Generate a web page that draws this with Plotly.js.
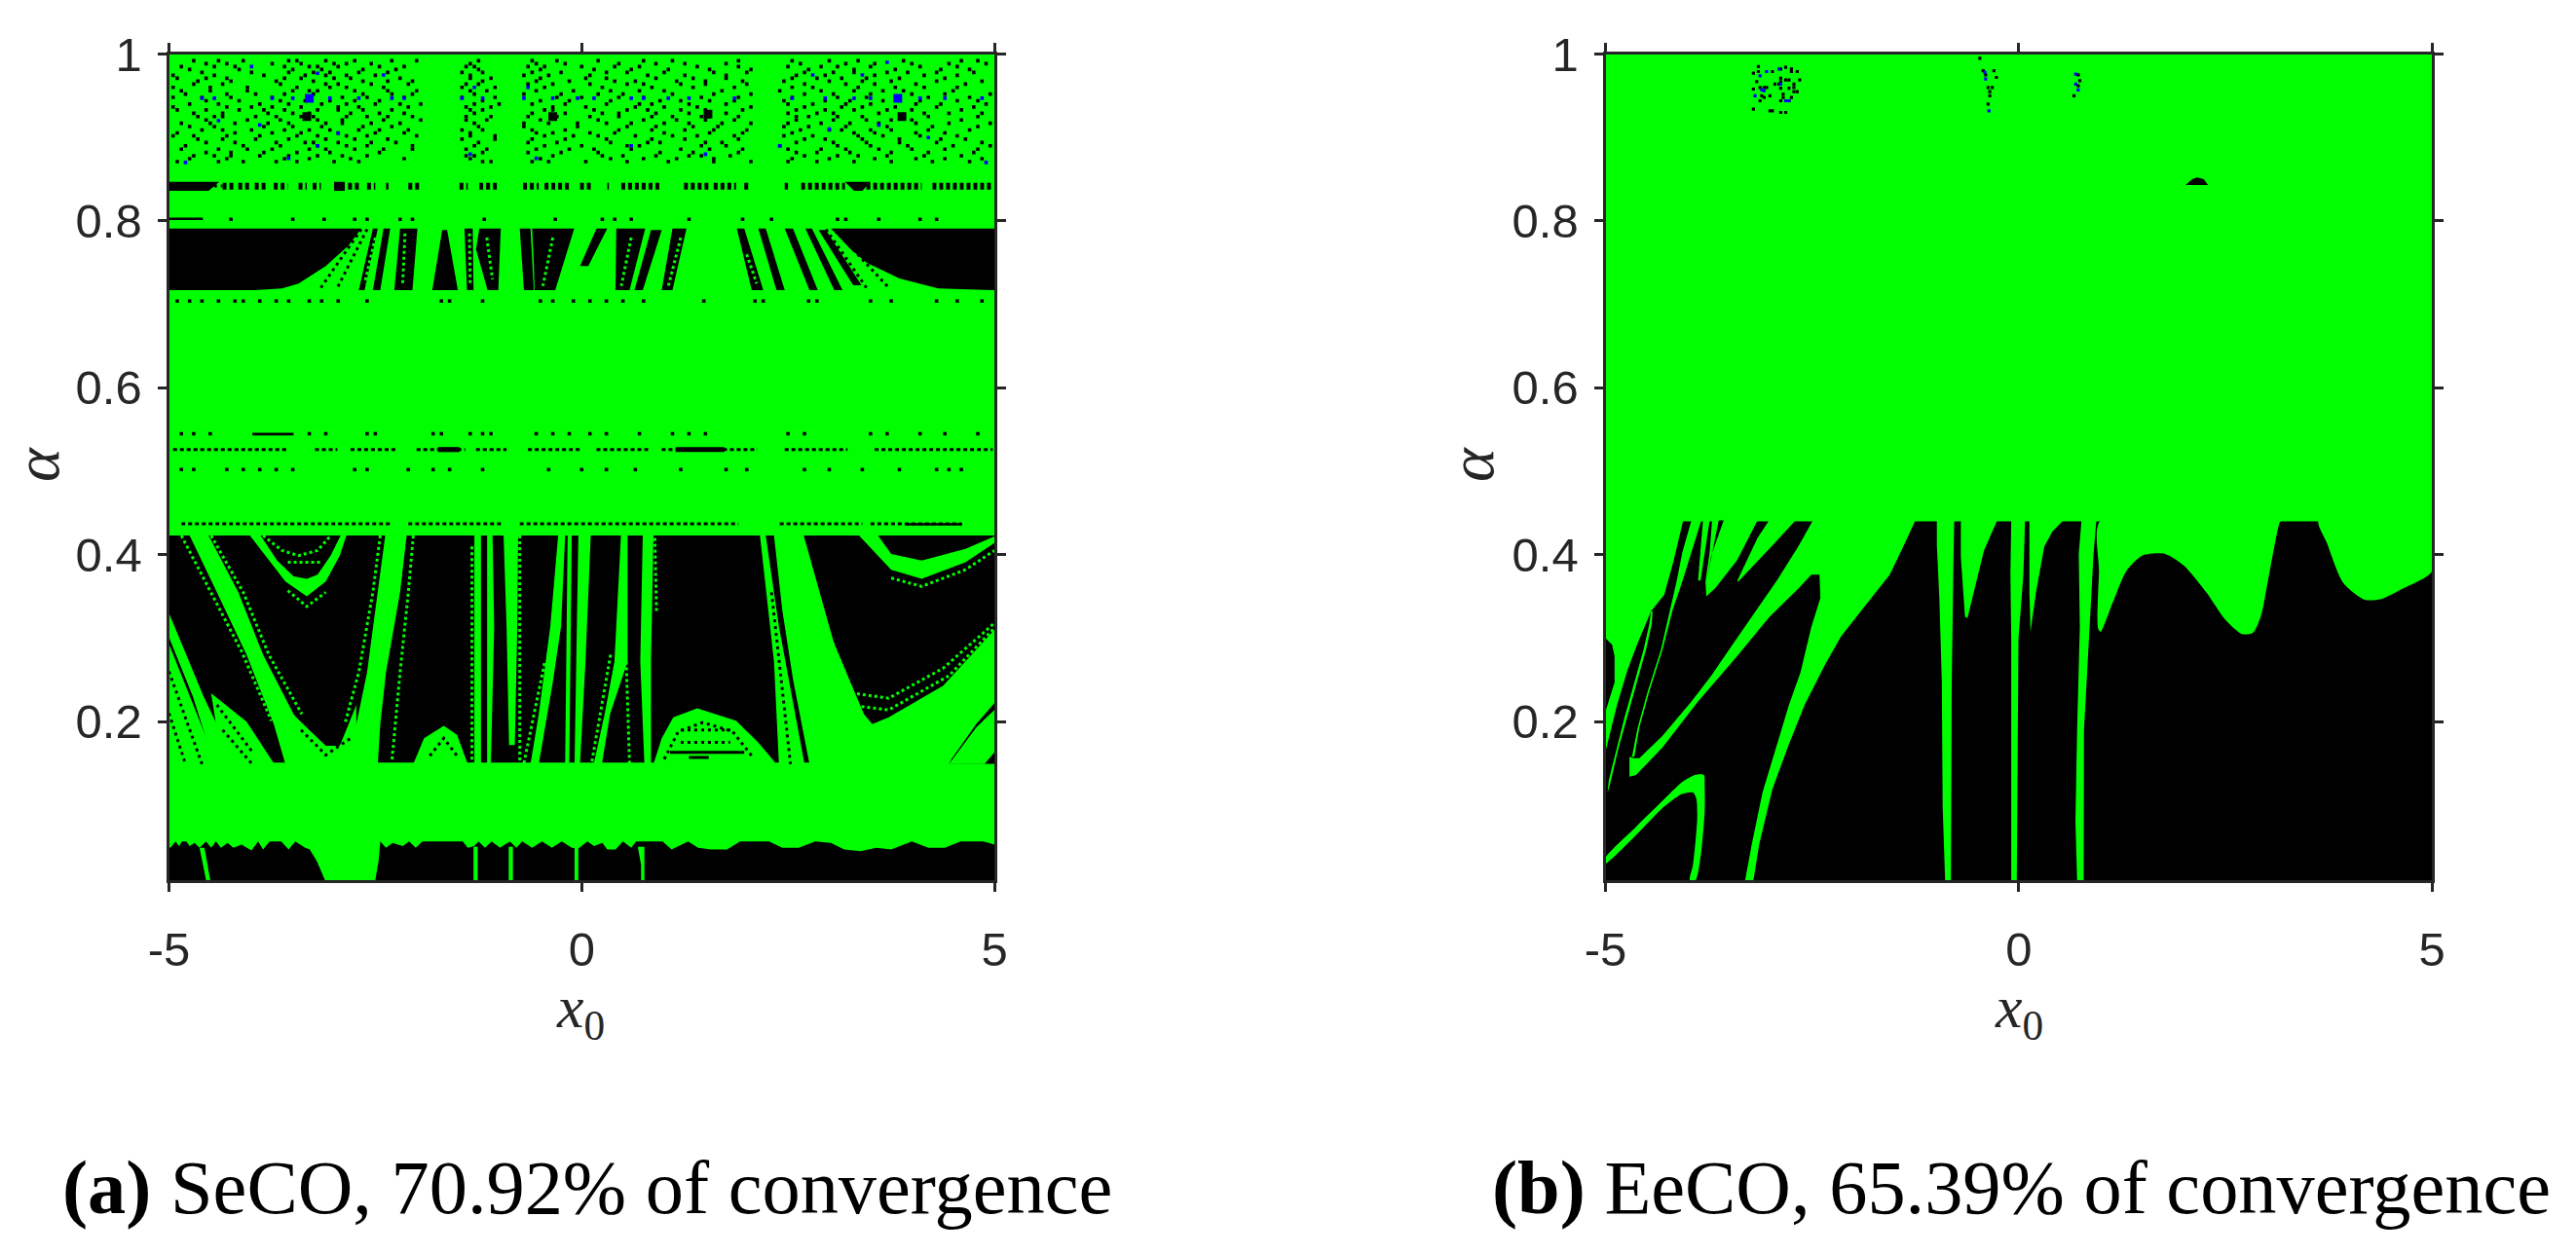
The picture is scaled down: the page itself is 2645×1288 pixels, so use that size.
<!DOCTYPE html>
<html><head><meta charset="utf-8">
<script src="https://cdn.plot.ly/plotly-3.0.1.min.js"></script>
<style>html,body{margin:0;padding:0;background:#fff}#c{width:2645px;height:1288px}</style>
</head><body><div id="c"></div>
<script>
// ---------- tick labels and captions ----------
const xTickVals=[-5,0,5], xTickText=['-5','0','5'];
const yTickVals=[0.2,0.4,0.6,0.8,1], yTickText=['0.2','0.4','0.6','0.8','1'];
const captionA='<b>(a)</b> SeCO, 70.92% of convergence';
const captionB='<b>(b)</b> EeCO, 65.39% of convergence';
const xTitle='<i>x</i><sub>0</sub>', yTitle='<i>α</i>';

// ---------- panel (b): green regions over black ----------
const rTop=[[-5,1],[5,1],[5,.44],[-5,.44]];
const rWedge=[[-5,.441],[-4.06,.441],[-4.18,.391],[-4.29,.352],[-4.45,.332],[-4.61,.294],[-4.73,.263],[-4.86,.22],[-5,.164],[-5,.212],[-4.89,.247],[-4.89,.278],[-4.92,.292],[-5,.3]];
const rS1=[[-4.45,.332],[-4.43,.332],[-4.44,.317],[-4.51,.286],[-4.62,.247],[-4.74,.205],[-4.84,.169],[-4.95,.123],[-4.975,.115],[-4.96,.13],[-4.86,.169],[-4.77,.205],[-4.65,.247],[-4.54,.286],[-4.47,.317]];
const rS2=[[-3.96,.441],[-3.84,.441],[-3.96,.403],[-4.07,.368],[-4.19,.333],[-4.31,.286],[-4.47,.236],[-4.59,.193],[-4.65,.158],[-4.68,.158],[-4.61,.193],[-4.49,.236],[-4.33,.286],[-4.22,.333],[-4.14,.368],[-4.07,.403]];
const rS3=[[-3.82,.441],[-3.74,.441],[-3.85,.369],[-3.88,.369]];
const rT=[[-3.71,.441],[-3.16,.441],[-3.41,.393],[-3.67,.36],[-3.78,.35],[-3.79,.368],[-3.74,.403]];
const rP4=[[-3.02,.441],[-2.7,.441],[-2.98,.411],[-3.4,.367],[-3.4,.37],[-3.16,.42]];
const rMain=[[-2.49,.441],[-1.25,.441],[-1.39,.411],[-1.56,.376],[-1.84,.341],[-2.15,.302],[-2.35,.267],[-2.59,.22],[-2.78,.173],[-2.98,.119],[-3.14,.053],[-3.21,.01],[-3.31,.01],[-3.23,.053],[-3.1,.115],[-2.94,.169],[-2.78,.22],[-2.64,.259],[-2.51,.313],[-2.4,.348],[-2.41,.376],[-2.51,.376],[-2.66,.36],[-3.02,.325],[-3.41,.278],[-3.88,.224],[-4.31,.169],[-4.63,.136],[-4.71,.134],[-4.71,.158],[-4.66,.156],[-4.59,.156],[-4.31,.183],[-3.96,.224],[-3.72,.255],[-3.45,.294],[-3.18,.333],[-2.92,.37],[-2.66,.411]];
const rHook=[[-5,.037],[-4.63,.074],[-4.31,.105],[-4.08,.127],[-3.92,.136],[-3.81,.136],[-3.8,.123],[-3.8,.092],[-3.84,.045],[-3.91,.01],[-3.98,.01],[-3.94,.029],[-3.89,.084],[-3.9,.107],[-3.94,.115],[-4.08,.113],[-4.29,.098],[-4.63,.064],[-5,.03]];
const rFa=[[-.99,.441],[-.78,.441],[-.79,.387],[-.81,.247],[-.82,.01],[-.89,.01],[-.92,.098],[-.93,.247],[-.96,.348],[-.99,.411]];
const rFb=[[-.7,.441],[-.26,.441],[-.42,.405],[-.62,.324],[-.65,.326],[-.7,.397]];
const rFc=[[-.09,.441],[.077,.441],[.057,.376],[-.003,.299],[-.023,.01],[-.09,.01],[-.09,.299],[-.1,.376]];
const rFd=[[.13,.441],[.54,.441],[.41,.428],[.31,.41],[.21,.355],[.143,.3075],[.13,.355]];
const rFe=[[.76,.441],[.94,.441],[.906,.401],[.84,.28],[.79,.189],[.786,.01],[.707,.01],[.687,.08],[.707,.189],[.74,.314],[.727,.401]];
const rFf=[[.992,.441],[.972,.38],[.96,.312],[.992,.3075],[1.14,.343],[1.3,.38],[1.5,.399],[1.77,.401],[2,.387],[2.27,.355],[2.5,.322],[2.7,.305],[2.83,.306],[2.93,.326],[3.03,.376],[3.16,.439],[3.18,.441]];
const rFg=[[3.63,.441],[3.73,.414],[3.93,.366],[4.19,.346],[4.39,.347],[4.66,.36],[5,.38],[5,.441]];
const rBlackFinger=[[-3.63,.441],[-3.57,.441],[-3.72,.399],[-3.77,.372]];
const rBlob=[[2.02,.843],[2.13,.843],[2.2,.843],[2.29,.843],[2.24,.85],[2.16,.852],[2.1,.85]];
const rSpeckBlack=[[-3.15,.985],[-3.15,.979],[-2.88,.982],[-2.82,.984],[-2.75,.982],[-2.75,.979],[-3.21,.977],[-2.98,.979],[-2.68,.979],[-3.17,.967],[-2.88,.971],[-2.88,.967],[-2.82,.969],[-2.78,.969],[-2.65,.969],[-2.95,.964],[-2.90,.964],[-2.72,.964],[-2.72,.96],[-2.72,.955],[-3.21,.958],[-3.13,.96],[-3.08,.96],[-3.05,.96],[-2.88,.959],[-2.78,.959],[-2.68,.955],[-3.11,.95],[-3.01,.95],[-2.85,.952],[-2.85,.948],[-2.75,.948],[-3.08,.948],[-3.13,.944],[-2.88,.944],[-2.78,.944],[-3.21,.934],[-3.01,.932],[-2.98,.932],[-2.88,.93],[-2.82,.93],[-.47,.995],[-.43,.98],[-.4,.975],[-.3,.98],[-.27,.972],[-.37,.96],[-.32,.96],[-.35,.955],[-.35,.95],[-.37,.94],[.72,.975],[.74,.968],[.72,.962],[.67,.95]];
const rSpeckBlue=[[-3.13,.974],[-3.05,.979],[-2.9,.982],[-2.88,.964],[-3.11,.957],[-3.08,.956],[-3.19,.95],[-2.82,.944],[-2.78,.944],[-.41,.978],[-.4,.97],[.69,.976],[.69,.964],[-.36,.932],[.72,.957]];

// ---------- panel (a): black regions over a green ground ----------
const lGround=[[-5,1],[5,1],[5,.01],[-5,.01]];
const lBandA=[[-5,.791],[-2.67,.791],[-2.83,.77],[-3.1,.746],[-3.43,.725],[-3.63,.719],[-3.96,.717],[-5,.717]];
const lBandB=[[3.02,.791],[5,.791],[5,.717],[4.32,.719],[3.85,.731],[3.45,.75],[3.26,.766]];
const lWedges=[
 [[-2.53,.791],[-2.47,.791],[-2.63,.717],[-2.7,.717]],
 [[-2.4,.791],[-2.32,.791],[-2.44,.717],[-2.53,.717]],
 [[-2.2,.791],[-1.99,.791],[-2.05,.717],[-2.27,.717]],
 [[-1.69,.789],[-1.63,.789],[-1.5,.717],[-1.81,.717]],
 [[-1.42,.791],[-1.32,.791],[-1.31,.717],[-1.39,.717]],
 [[-1.24,.791],[-.98,.791],[-1.01,.717],[-1.14,.717],[-1.28,.766]],
 [[-.75,.791],[-.62,.791],[-.58,.717],[-.7,.717]],
 [[-.6,.791],[-.09,.791],[-.32,.717],[-.57,.717],[-.58,.75]],
 [[.18,.791],[.31,.791],[.08,.746],[-.02,.746]],
 [[.42,.791],[.77,.791],[.58,.717],[.41,.717]],
 [[.84,.789],[.97,.789],[.74,.717],[.64,.717]],
 [[1.1,.791],[1.27,.791],[1.1,.717],[.97,.717]],
 [[1.88,.791],[1.97,.791],[2.2,.717],[2.06,.717]],
 [[2.14,.791],[2.23,.791],[2.46,.717],[2.36,.717]],
 [[2.46,.791],[2.56,.791],[2.86,.717],[2.76,.717]],
 [[2.71,.791],[2.79,.791],[3.16,.717],[3.06,.717]],
 [[2.87,.789],[2.96,.789],[3.39,.723],[3.29,.723]]
];
const lStripeBlocks=[
 [[-5,.847],[-4.39,.847],[-4.52,.836],[-5,.836]],
 [[-3,.847],[-2.87,.847],[-2.87,.836],[-3,.836]],
 [[3.19,.847],[3.5,.847],[3.4,.836],[3.3,.836]],
 [[-5,.804],[-4.59,.804],[-4.59,.801],[-5,.801]],
 [[-3.99,.546],[-3.49,.546],[-3.49,.543],[-3.99,.543]],
 [[-1.74,.529],[-1.48,.529],[-1.48,.523],[-1.74,.523]],
 [[1.14,.529],[1.73,.529],[1.73,.523],[1.14,.523]],
 [[3.92,.438],[4.61,.438],[4.61,.435],[3.92,.435]]
];
const lMid=[[-5,.423],[5,.423],[5,.149],[-5,.149]];
const lLowBand=[[-5,.151],[4.45,.151],[4.45,.06],[-5,.06]];
const lLowBandRight=[[4.4,.149],[5,.149],[5,.06],[4.4,.06]];
const lBottom=[[-5,.049],[-4.98,.049],[-4.92,.0565],[-4.88,.0507],[-4.84,.0565],[-4.79,.0565],[-4.75,.0507],[-4.69,.0545],[-4.63,.0487],[-4.55,.0565],[-4.49,.0487],[-4.43,.0565],[-4.37,.0487],[-4.29,.0545],[-4.22,.0487],[-4.12,.0526],[-4,.0456],[-3.92,.0565],[-3.86,.0468],[-3.78,.0565],[-3.64,.0565],[-3.55,.0468],[-3.47,.0565],[-3.35,.0487],[-3.29,.0468],[-2.44,.0565],[-2.37,.0487],[-2.29,.0545],[-2.17,.0507],[-2.09,.0565],[-2.01,.0487],[-1.93,.0565],[-1.44,.0565],[-1.38,.0487],[-1.3,.0507],[-1.25,.0565],[-1.17,.0487],[-1.09,.0565],[-.99,.0487],[-.87,.0565],[-.79,.0487],[-.72,.0565],[-.6,.0487],[-.48,.0565],[-.36,.0487],[-.24,.0565],[-.12,.0487],[-.04,.048],[.07,.0565],[.15,.0507],[.25,.0545],[.31,.0468],[.41,.0468],[.5,.0565],[.6,.0487],[.66,.0565],[.86,.0565],[.98,.0565],[1.09,.0468],[1.29,.0565],[1.41,.0487],[1.57,.0468],[1.76,.0468],[1.92,.0565],[2.27,.0565],[2.43,.0487],[2.63,.0487],[2.83,.0565],[3.02,.0545],[3.18,.0468],[3.38,.0448],[3.57,.0487],[3.75,.0468],[4,.0565],[4.2,.0487],[4.4,.0487],[4.59,.0565],[4.87,.0565],[5,.0526],[5,.01],[-5,.01]];

// green over the black parts of panel (a)
const lGreen=[
 [[-3.3,.06],[-2.42,.06],[-2.44,.0565],[-2.46,.033],[-2.5,.01],[-3.11,.01],[-3.21,.033],[-3.29,.046]],
 [[-4.63,.0487],[-4.57,.0487],[-4.5,.01],[-4.55,.01]],
 [[-1.31,.05],[-1.26,.05],[-1.26,.01],[-1.31,.01]],
 [[-.884,.05],[-.833,.05],[-.833,.01],[-.884,.01]],
 [[-.086,.05],[-.04,.05],[-.04,.01],[-.086,.01]],
 [[.68,.05],[.76,.05],[.76,.01],[.72,.01],[.72,.028]],
 [[-4.75,.423],[-4.52,.423],[-4.16,.355],[-3.86,.28],[-3.49,.209],[-3.16,.168],[-2.96,.149],[-3.59,.149],[-3.73,.197],[-4.06,.28],[-4.42,.355]],
 [[-2.38,.423],[-2.12,.423],[-2.2,.355],[-2.37,.259],[-2.44,.197],[-2.47,.149],[-2.87,.149],[-2.73,.197],[-2.6,.259],[-2.47,.355]],
 [[-3.46,.205],[-3.1,.171],[-2.93,.171],[-2.73,.22],[-2.73,.149],[-3.46,.149]],
 [[-5,.33],[-5,.301],[-4.71,.23],[-4.45,.149],[-4.19,.149],[-4.58,.23]],
 [[-5,.293],[-4.75,.23],[-4.42,.149],[-5,.149]],
 [[-4.49,.234],[-4.06,.2],[-3.73,.15],[-4.35,.149]],
 [[-4.02,.423],[-3.83,.399],[-3.59,.368],[-3.33,.35],[-3.1,.368],[-2.93,.399],[-2.85,.423],[-2.92,.423],[-3.04,.399],[-3.2,.376],[-3.33,.371],[-3.49,.374],[-3.69,.393],[-3.89,.423]],
 [[-2.04,.149],[-1.91,.18],[-1.67,.195],[-1.51,.184],[-1.38,.149]],
 [[.87,.149],[.97,.18],[1.11,.205],[1.4,.216],[1.87,.201],[2.13,.176],[2.36,.149]],
 [[-1.3,.423],[-1.22,.423],[-1.22,.149],[-1.3,.149]],
 [[-1.145,.423],[-1.08,.423],[-1.06,.314],[-1.1,.149],[-1.145,.149]],
 [[-.946,.423],[-.77,.423],[-.78,.314],[-.81,.172],[-.88,.172],[-.91,.314]],
 [[-.285,.423],[-.2,.423],[-.25,.314],[-.35,.247],[-.52,.149],[-.62,.149],[-.52,.209],[-.38,.314]],
 [[-.17,.423],[-.12,.423],[-.15,.149],[-.2,.149]],
 [[-.04,.423],[.11,.423],[.046,.272],[-.02,.149],[-.086,.149],[-.066,.272]],
 [[.476,.423],[.556,.423],[.556,.272],[.344,.209],[.245,.149],[.146,.149],[.278,.209],[.397,.272]],
 [[.74,.423],[.87,.423],[.84,.272],[.84,.149],[.76,.149],[.71,.272]],
 [[2.33,.423],[2.69,.423],[3.06,.293],[3.42,.209],[3.52,.197],[3.72,.205],[4.38,.243],[5,.31],[5,.222],[4.78,.197],[4.48,.155],[4.45,.149],[2.76,.149],[2.56,.251],[2.43,.334]],
 [[3.36,.423],[3.75,.382],[4.12,.371],[4.65,.391],[5,.414],[5,.422],[4.65,.407],[4.12,.393],[3.75,.401],[3.59,.423]],
 [[2.16,.423],[2.23,.423],[2.39,.314],[2.7,.149],[2.39,.149],[2.33,.272]],
 [[4.45,.149],[4.78,.193],[5,.214],[5,.163],[4.88,.149]]
];
// dotted green trails on black
const lGreenTrails=[
 [[-4.49,.423],[-4.1,.355],[-3.79,.28],[-3.39,.209]],
 [[-4.85,.423],[-4.49,.355],[-4.12,.284],[-3.76,.201]],
 [[-2.44,.423],[-2.53,.355],[-2.7,.259],[-2.87,.197]],
 [[-2.04,.423],[-2.1,.355],[-2.2,.259],[-2.3,.152]],
 [[-3.56,.357],[-3.33,.338],[-3.1,.355]],
 [[-1.33,.41],[-1.33,.149]],
 [[-.75,.423],[-.75,.149]],
 [[-.45,.27],[-.7,.15]],
 [[.35,.28],[.12,.15]],
 [[.54,.272],[.58,.149]],
 [[.887,.42],[.907,.33]],
 [[2.96,.314],[3.29,.234],[3.72,.228],[4.38,.264],[5,.318]],
 [[3.39,.218],[3.72,.214],[4.45,.255],[5,.312]],
 [[3.75,.372],[4.12,.362],[4.65,.382],[5,.405]],
 [[-3.86,.423],[-3.63,.405],[-3.43,.399],[-3.2,.405],[-3.04,.423]],
 [[-3.56,.391],[-3.16,.391]],
 [[-2.5,.78],[-2.63,.725]],[[-2.14,.785],[-2.17,.722]],[[-1.36,.785],[-1.35,.722]],[[-1.15,.78],[-1.08,.73]],
 [[-.35,.78],[-.47,.722]],[[.6,.78],[.48,.722]],[[1.2,.78],[1.05,.722]],[[2.0,.76],[2.12,.725]]
];
// dotted black trails on green
const lBlackTrails=[
 [[-2.67,.79],[-3.16,.72]],[[-2.6,.79],[-2.96,.72]],
 [[3.06,.79],[3.72,.72]],[[2.96,.79],[3.45,.72]],
 [[-5,.26],[-4.6,.149]],[[-5,.21],[-4.8,.149]],
 [[-4.42,.22],[-4,.165]],[[-4.35,.19],[-4,.15]],
 [[-3.4,.19],[-3.1,.16],[-2.8,.18]],
 [[-1.84,.159],[-1.67,.18],[-1.51,.159]],
 [[1,.155],[1.17,.188],[1.47,.199],[1.83,.188],[2.06,.159]],
 [[1.2,.175],[1.8,.175]],[[1.2,.19],[1.8,.19]],
 [[2.3,.355],[2.53,.149]],
 [[-4.95,.842],[-4.35,.842]]
];
const lBlackSolid=[
 [[1.07,.163],[1.97,.163]],[[1.3,.157],[1.54,.157]]
];
// broken horizontal stripes: [y, [x0,x1], [x0,x1], ...]
const lStripeY=[.8415,.526,.437];
const lStripeRuns=[
 [[-4.35,-4.22],[-4.16,-4.02],[-3.96,-3.83],[-3.73,-3.56],[-3.43,-3.33],[-3.26,-3.16],[-2.83,-2.67],[-2.6,-2.5],[-2.37,-2.34],[-2.1,-1.94],[-1.48,-1.38],[-1.24,-1.01],[-.71,-.52],[-.45,-.12],[-.02,.11],[.31,.33],[.48,.97],[1.24,1.54],[1.6,1.87],[1.97,2.03],[2.46,2.5],[2.66,3.19],[3.45,4.12],[4.25,4.98]],
 [[-4.95,-3.56],[-3.23,-2.96],[-2.8,-2.24],[-2,-1.41],[-1.28,-.91],[-.65,.01],[.18,.84],[.97,2.13],[2.46,3.22],[3.55,4.98]],
 [[-4.85,-2.3],[-2.1,-.95],[-.75,1.9],[2.4,3.4],[3.5,4.6]]
];
// black specks: row values and x positions read along each row
const speckRowY=[.992,.985,.978,.971,.964,.956,.948,.94,.933,.925,.917,.909,.902,.894,.886,.878,.871,.802,.704,.545,.502,
 .9885,.9815,.9745,.9675,.96,.952,.944,.9365,.929,.921,.913,.9055,.898,.89,.882,.8745];
const speckRowX=[
 [-4.7,-4.4,-4.1,-3.55,-3.45,-3.1,-2.75,-2.3,-2,-1.25,-.6,-.3,.2,.75,1.1,1.9,2.55,3,3.35,3.9,4.6,4.8],
 [-4.85,-4.45,-4.2,-3.6,-3.3,-3.2,-2.95,-2.45,-2.15,-1.4,-1.3,-.65,-.45,0,.4,.7,1.4,1.9,2.5,2.9,3.1,3.5,4.1,4.55],
 [-4.6,-4,-3.55,-3.25,-3.05,-2.7,-2.35,-1.45,-1.2,-.6,-.25,.3,.55,1,1.6,2,2.7,3.05,3.3,3.7,3.95,4.3,4.75],
 [-4.9,-4.55,-4.3,-3.6,-3.4,-3,-2.8,-2.2,-1.35,-1.1,-.5,.05,.3,.9,1.35,1.75,2.55,2.85,3.15,3.45,3.85,4.4],
 [-4.7,-4.35,-3.65,-3.1,-2.95,-2.55,-2.1,-1.4,-1.25,-.65,-.35,.1,.55,.75,1.2,1.5,2,2.7,3.2,3.55,4.05,4.65],
 [-4.85,-4.5,-4.05,-3.5,-3.3,-3.2,-2.75,-2.35,-2,-1.35,-1.15,-.55,-.1,.35,.7,1,1.7,2.4,2.9,3.3,3.65,3.9,4.5],
 [-4.95,-4.6,-4.25,-3.75,-2.9,-2.6,-2.15,-1.45,-1.05,-.3,0,.45,.75,1.45,1.9,2.55,3.1,3.45,4.2,4.7],
 [-4.75,-4.4,-3.9,-3.55,-3.15,-2.85,-2.5,-2.2,-1.95,-1.3,-1,-.6,-.2,.3,.7,.85,1.3,1.75,2.5,2.8,3.2,3.5,4.05,4.35,4.9],
 [-4.9,-4.55,-4.15,-3.85,-3.6,-3.2,-2.95,-2.65,-2.3,-1.35,-1.2,-.45,-.35,.15,.55,.8,1.2,1.5,1.95,2.6,2.95,3.3,3.7,4,4.6],
 [-4.65,-4.45,-4.35,-3.95,-3.7,-3.4,-3.25,-2.85,-2.6,-2.35,-2.05,-1.4,-1.1,-.65,-.35,-.3,.1,.45,.85,1.1,1.45,1.55,1.9,2.6,2.75,3.1,3.4,4.2,4.8],
 [-4.85,-4.5,-4.2,-3.8,-3.55,-3.1,-2.9,-2.55,-2.2,-1.3,-.7,-.4,-.05,.3,.6,1,1.3,1.7,2.05,2.5,2.9,3.25,3.6,4.05,4.45,4.95],
 [-4.6,-4.35,-4,-3.6,-3.3,-3.05,-2.7,-2.45,-2.1,-1.45,-1.2,-.6,-.2,.45,.85,1.25,1.6,2,2.65,3,3.15,3.5,3.75,4.2,4.7],
 [-4.95,-4.7,-4.3,-3.9,-3.45,-3.2,-2.85,-2.6,-2,-1.35,-1.05,-.45,-.1,.2,.65,1.1,1.4,1.85,2.45,2.8,3.35,3.65,4.1,4.55],
 [-4.55,-4.2,-3.7,-3.35,-3.25,-2.95,-2.55,-2.25,-1.25,-.65,-.3,.35,.8,.95,1.5,1.7,2.6,3.05,3.45,3.85,4.3,4.85],
 [-4.85,-4.4,-4.05,-3.75,-3.3,-3.1,-2.75,-2.4,-2.05,-1.4,-1.15,-.55,-.15,.15,.6,1.2,1.55,1.95,2.5,2.9,3.2,3.6,4,4.4,4.8],
 [-4.7,-4.45,-4.25,-3.9,-3.55,-3.2,-2.9,-2.6,-1.4,-1.3,-.35,.25,.5,.9,1.3,1.45,1.8,2.7,3.1,3.35,3.7,4.15,4.6],
 [-4.9,-4.4,-4.1,-3.7,-3.45,-3,-2.7,-1.2,-1.1,-.6,-.4,.05,.55,1.05,1.6,2.05,2.5,2.85,3.3,3.75,4.25,4.7],
 [-4.25,-3.5,-3.12,-2.75,-2.6,-2.2,-2.05,-1.18,-.32,.25,.4,.6,1.3,1.95,2.3,3.1,3.2,3.6,4.1,4.3],
 [-4.9,-4.75,-4.6,-4.4,-4.2,-4.1,-3.9,-3.7,-3.55,-3.3,-3.15,-2.95,-2.6,-1.7,-1.6,-1.2,-.5,-.35,-.1,.1,.3,.5,.75,1.48,2.1,2.2,2.75,2.85,3.5,3.75,4.3,4.55,4.85],
 [-4.85,-4.7,-4.5,-3.3,-3.1,-2.6,-2.5,-1.8,-1.7,-1.35,-1.2,-1.1,-.55,-.35,-.15,.1,.3,.7,1.1,1.3,1.5,2.5,2.7,3.5,3.7,4.1,4.4,4.8],
 [-4.85,-4.7,-4.3,-4.1,-3.9,-3.7,-3.5,-2.75,-2.6,-2.1,-1.8,-1.6,-1.2,-.4,0,.3,.65,1.2,1.75,2,2.7,3,3.4,3.85,4.3,4.45,4.6],
 [-4.55,-4.3,-3.75,-3.4,-3.0,-2.85,-2.55,-1.35,-.55,-.2,.45,.9,1.25,1.75,2.65,3.2,3.55,4.0,4.45,4.9],
 [-4.75,-4.15,-3.5,-3.15,-2.65,-2.25,-1.25,-.5,.15,.6,1.05,1.55,2.05,2.75,3.3,3.8,4.35,4.7],
 [-4.95,-4.45,-3.85,-3.35,-3.1,-2.85,-2.5,-1.35,-.7,-.4,.1,.8,1.25,1.75,2.6,2.95,3.55,4.15,4.55],
 [-4.65,-4.25,-3.7,-3.25,-2.65,-2.35,-2.05,-1.2,-.55,-.15,.4,.65,1.15,1.5,1.95,2.45,3.0,3.4,3.75,4.3,4.85],
 [-4.95,-4.5,-4.05,-3.45,-3.05,-2.85,-2.4,-1.45,-1.05,-.45,.25,.85,1.35,1.85,2.55,2.8,3.35,3.8,4.15,4.55],
 [-4.8,-4.3,-3.95,-3.6,-3.25,-2.65,-2.3,-2.05,-1.3,-.7,-.25,.2,.5,1.1,1.6,2.05,2.7,3.05,3.5,4.0,4.4,4.95],
 [-4.55,-4.15,-3.65,-3.35,-3.05,-2.75,-2.45,-1.2,-.5,-.15,.35,.95,1.2,1.55,1.85,2.45,2.95,3.25,3.65,4.1,4.55,4.8],
 [-4.95,-4.3,-4.0,-3.75,-3.4,-2.95,-2.7,-2.1,-1.4,-1.1,-.35,.05,.65,1.0,1.4,2.05,2.7,3.15,3.4,3.8,4.3,4.75],
 [-4.7,-4.35,-3.8,-3.5,-3.3,-2.8,-2.45,-2.15,-1.3,-.6,-.2,.25,.45,.9,1.3,1.75,2.5,2.85,3.05,3.6,4.15,4.45,4.85],
 [-4.55,-4.05,-3.65,-3.2,-2.9,-2.4,-1.95,-1.4,-1.15,-.5,.2,.75,1.15,1.5,1.85,2.6,3.05,3.45,3.75,4.0,4.6],
 [-4.75,-4.45,-3.85,-3.5,-3.15,-2.65,-2.3,-1.25,-.7,-.05,.55,.9,1.35,1.65,2.45,2.75,3.2,3.7,4.25,4.8],
 [-4.9,-4.2,-3.75,-3.4,-2.95,-2.5,-2.15,-1.35,-.55,-.35,.1,.4,1.0,1.55,1.95,2.55,3.3,3.55,4.05,4.4],
 [-4.65,-4.35,-3.95,-3.55,-3.1,-2.75,-2.35,-1.45,-1.05,-.6,-.2,.3,.85,1.25,1.9,2.7,2.95,3.4,3.85,4.35,4.65],
 [-4.8,-4.1,-3.65,-3.2,-2.85,-2.6,-2.05,-1.3,-.45,.0,.55,.7,1.45,1.75,2.4,3.1,3.5,3.95,4.5,4.95],
 [-4.55,-4.25,-3.85,-3.45,-3.05,-2.45,-1.2,-.65,-.25,.2,.95,1.35,1.9,2.6,2.85,3.25,3.75,4.2,4.75],
 [-4.75,-4.3,-3.6,-3.3,-2.8,-2.15,-1.35,-.5,.35,.75,1.15,1.6,2.55,3.0,3.55,4.05,4.4,4.85]
];
const lBlueRowX=[-4.6,-4.45,-3.75,-3.5,-3.05,-2.7,-2.3,-2.15,-1.45,-1.2,-.7,-.35,-.05,.15,.6,.75,1.05,1.3,1.85,2.55,2.95,3.3,3.5,4.1,4.4,4.85];
const lBlueRowY=.947;
const lBlueOther=[[-4,.985],[-3.2,.977],[-2.4,.975],[-1.3,.96],[-.65,.96],[-4.4,.92],[-3.9,.915],[-2.95,.905],[-3.2,.89],[-4.8,.87],[-3.55,.875],[-1.35,.88],[-.55,.875],[.6,.89],[1.5,.88],[2.4,.89],[3,.91],[3.6,.915],[4.2,.9],[4.9,.87],[3.4,.975],[3.7,.99],[2.8,.975]];
const lBlueBlobs=[[-3.3,.947],[3.83,.947]];
const lBlackBlobs=[[-3.33,.925],[3.88,.925],[-.35,.925],[1.53,.928]];

// ---------- colours ----------
const GREEN='#00ff00', BLACK='#000000', BLUE='#0000ff', INK='#262626';

const traces=[];
function poly(p,color,xa,ya,smooth){traces.push({type:'scatter',mode:'lines',x:p.map(a=>a[0]).concat(p[0][0]),y:p.map(a=>a[1]).concat(p[0][1]),fill:'toself',fillcolor:color,line:smooth?{width:0,color:color,shape:'spline',smoothing:0.7}:{width:0,color:color},xaxis:xa,yaxis:ya,hoverinfo:'skip'});}
function trail(p,color,w,dash,xa,ya){traces.push({type:'scatter',mode:'lines',x:p.map(a=>a[0]),y:p.map(a=>a[1]),line:{width:w,color:color,dash:dash},xaxis:xa,yaxis:ya,hoverinfo:'skip'});}
function specks(p,color,size,xa,ya){traces.push({type:'scatter',mode:'markers',x:p.map(a=>a[0]),y:p.map(a=>a[1]),marker:{symbol:'square',size:size,color:color,line:{width:0}},xaxis:xa,yaxis:ya,hoverinfo:'skip'});}

// panel (a)
poly(lGround,GREEN,'x','y');
poly(lMid,BLACK,'x','y');
poly(lBottom,BLACK,'x','y');
poly(lBandA,BLACK,'x','y');
poly(lBandB,BLACK,'x','y');
lWedges.forEach(p=>poly(p,BLACK,'x','y'));
lStripeBlocks.forEach(p=>poly(p,BLACK,'x','y'));
lGreen.forEach(p=>poly(p,GREEN,'x','y'));
poly(lLowBand,GREEN,'x','y');
poly(lLowBandRight,GREEN,'x','y');
lGreenTrails.forEach(p=>trail(p,GREEN,3,'3px 3px','x','y'));
lBlackTrails.forEach(p=>trail(p,BLACK,3,'3px 4px','x','y'));
lBlackSolid.forEach(p=>trail(p,BLACK,3,'solid','x','y'));
lStripeRuns.forEach((runs,i)=>{
  const pts=[];runs.forEach(r=>{pts.push([r[0],lStripeY[i]],[r[1],lStripeY[i]],[null,null]);});
  trail(pts,BLACK,i===0?7:3,'4px 3px','x','y');
});
const rowPts=[];speckRowY.forEach((y,i)=>speckRowX[i].forEach(x=>rowPts.push([x,y])));
specks(rowPts,BLACK,3.6,'x','y');
specks(lBlueRowX.map(x=>[x,lBlueRowY]).concat(lBlueOther),BLUE,3.6,'x','y');
specks(lBlackBlobs,BLACK,9,'x','y');
specks(lBlueBlobs,BLUE,9,'x','y');

// panel (b)
poly(lGround,BLACK,'x2','y2');
[rTop,rWedge,rS1,rS2,rS3,rT,rP4,rMain,rFa,rFb,rFc,rFd,rFe].forEach(p=>poly(p,GREEN,'x2','y2'));
[rHook,rFf,rFg].forEach(p=>poly(p,GREEN,'x2','y2',true));
poly(rBlackFinger,BLACK,'x2','y2');
poly(rBlob,BLACK,'x2','y2');
specks(rSpeckBlack,BLACK,3.2,'x2','y2');
specks(rSpeckBlue,BLUE,3.2,'x2','y2');

const W=2645,H=1288;
const axisX=(dom,anchor)=>({domain:dom,anchor:anchor,range:[-5,5],tickmode:'array',tickvals:xTickVals,ticktext:xTickText,ticks:'outside',ticklen:9,tickwidth:3,tickcolor:INK,showline:true,linewidth:3,linecolor:INK,mirror:'ticks',showgrid:false,zeroline:false,tickfont:{family:'Liberation Sans, Arial, sans-serif',size:49,color:INK},ticklabelstandoff:17});
const axisY=(dom,anchor)=>({domain:dom,anchor:anchor,range:[.01,1],tickmode:'array',tickvals:yTickVals,ticktext:yTickText,ticks:'outside',ticklen:9,tickwidth:3,tickcolor:INK,showline:true,linewidth:3,linecolor:INK,mirror:'ticks',showgrid:false,zeroline:false,tickfont:{family:'Liberation Sans, Arial, sans-serif',size:49,color:INK},ticklabelstandoff:6});
const yDom=[1-904/H,1-55.5/H];
const titleNote=(text,px,py,size,angle)=>({xref:'paper',yref:'paper',x:px/W,y:1-py/H,xanchor:'center',yanchor:'middle',showarrow:false,text:text,textangle:angle,font:{family:'Liberation Serif, serif',size:size,color:INK}});
const layout={width:W,height:H,margin:{l:0,r:0,t:0,b:0},paper_bgcolor:'#fff',plot_bgcolor:'#fff',showlegend:false,hovermode:false,
  xaxis:axisX([173.5/W,1021/W],'y'),yaxis:axisY(yDom,'x'),
  xaxis2:axisX([1648.5/W,2497/W],'y2'),yaxis2:axisY(yDom,'x2'),
  annotations:[
   titleNote(xTitle,596,1038,62,0),
   titleNote(xTitle,2073,1038,62,0),
   titleNote(yTitle,37,477,66,-90),
   titleNote(yTitle,1510,477,66,-90),
   {xref:'paper',yref:'paper',x:62/W,y:1-1219/H,xanchor:'left',yanchor:'middle',showarrow:false,text:captionA,font:{family:'Liberation Serif, serif',size:78.4,color:'#000'}},
   {xref:'paper',yref:'paper',x:1530/W,y:1-1219/H,xanchor:'left',yanchor:'middle',showarrow:false,text:captionB,font:{family:'Liberation Serif, serif',size:78.4,color:'#000'}}
  ]};
Plotly.newPlot('c',traces,layout,{displayModeBar:false,staticPlot:true});
</script></body></html>
